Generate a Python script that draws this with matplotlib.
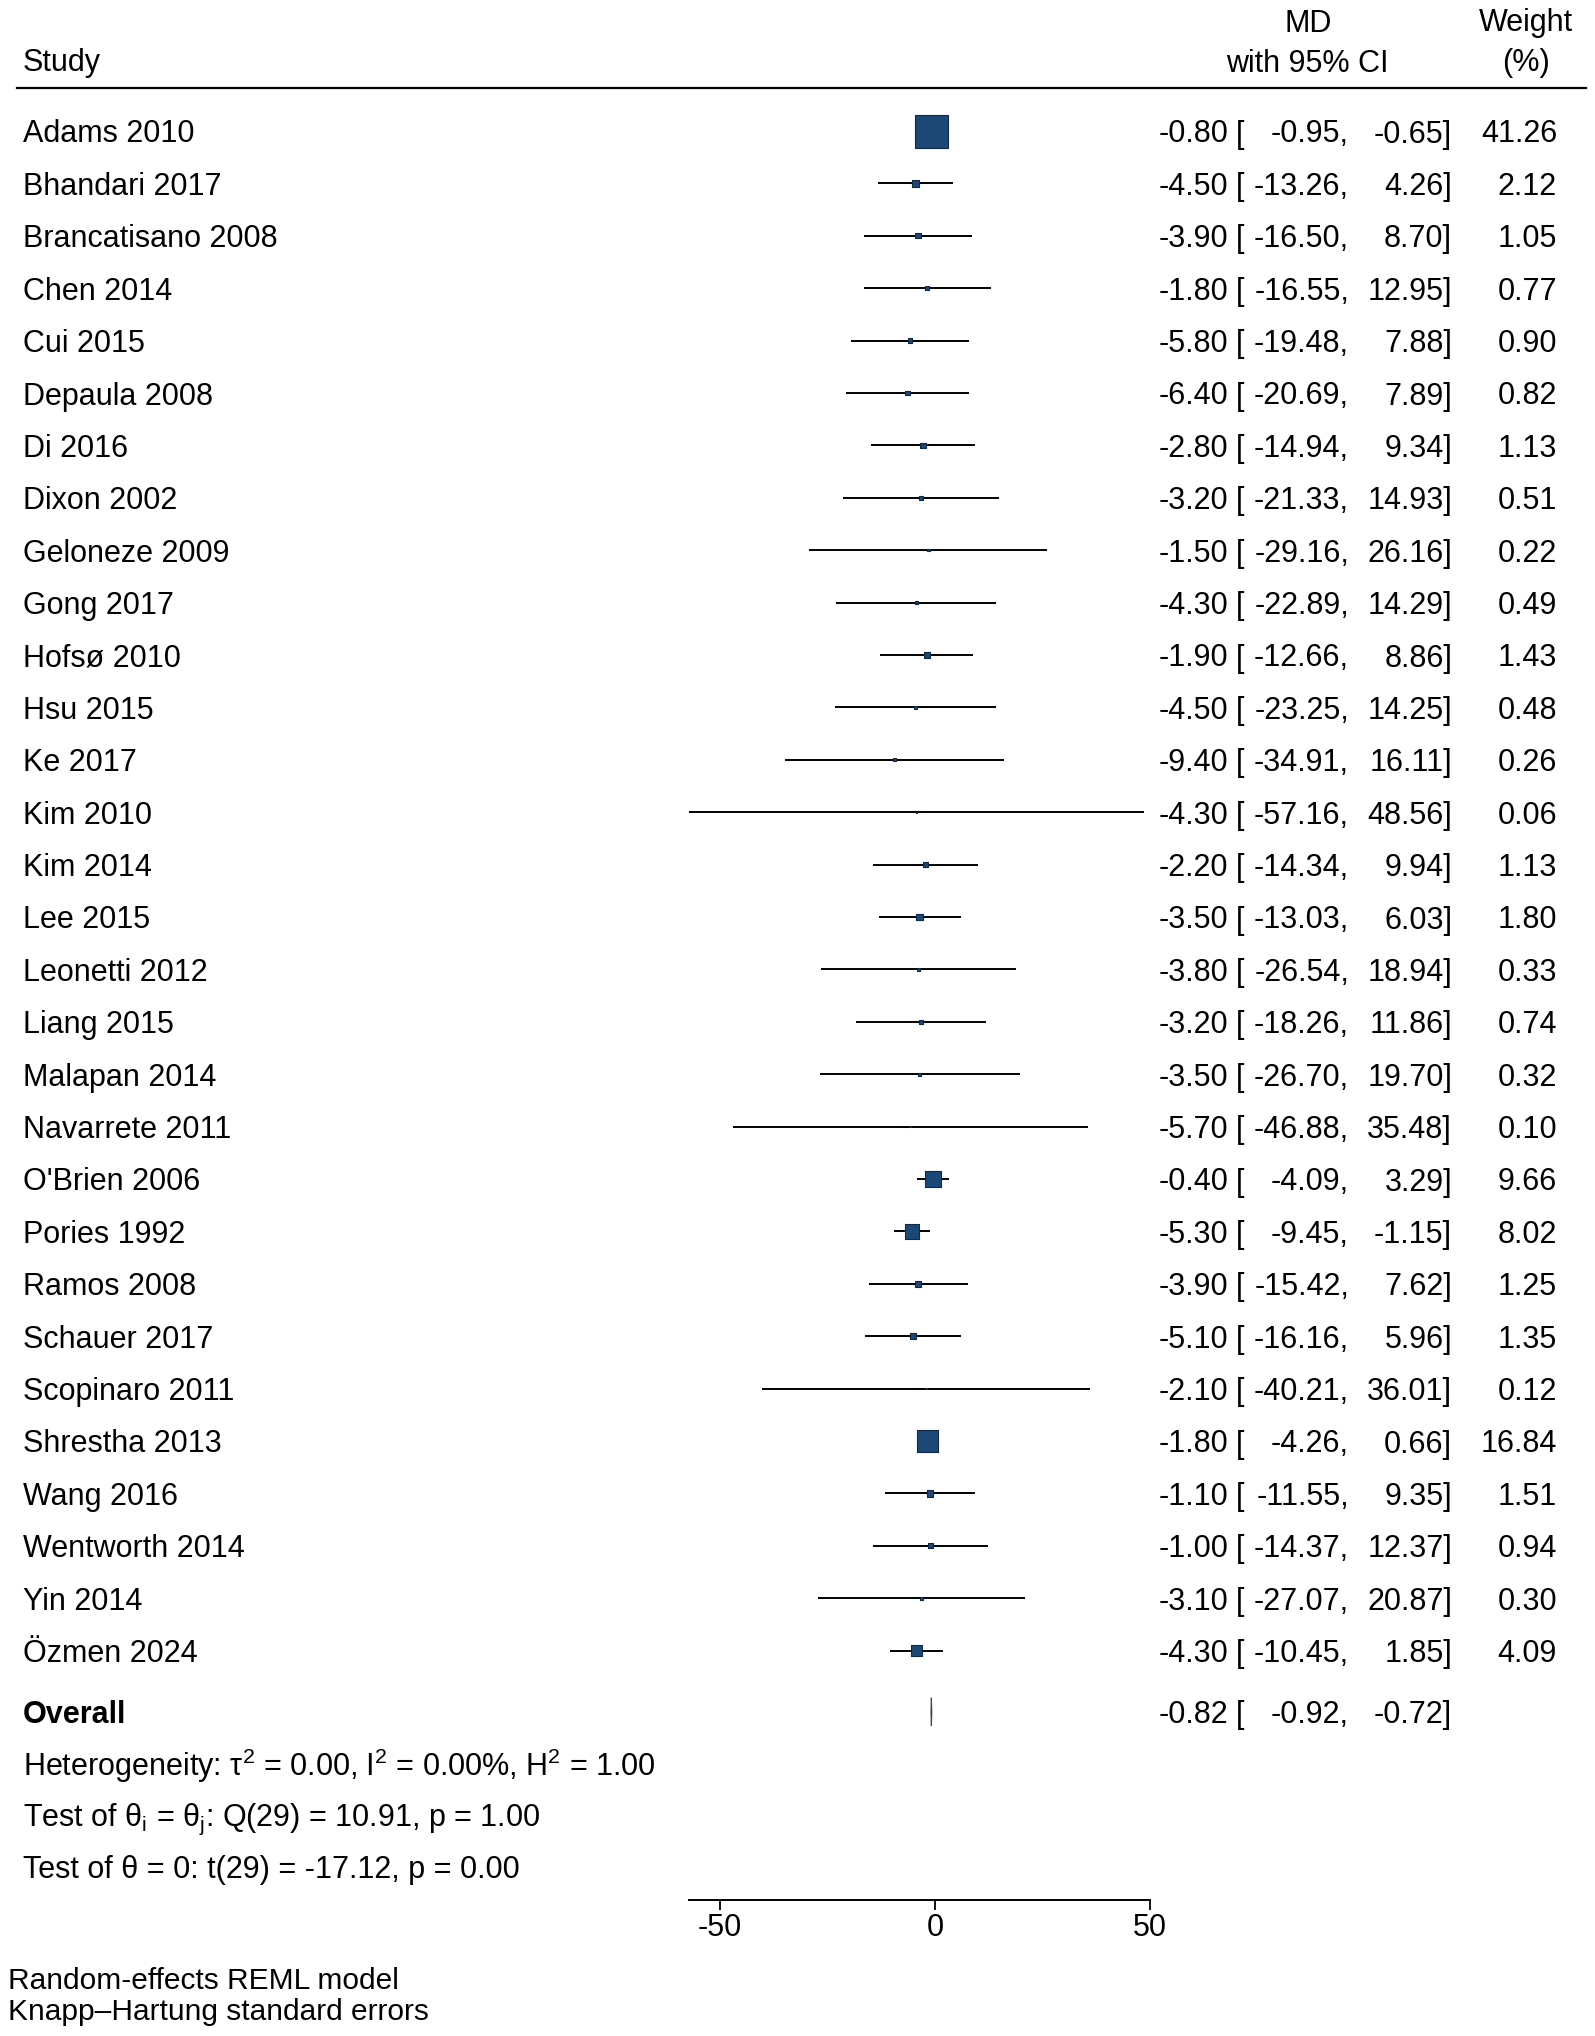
import matplotlib
matplotlib.use("Agg")
import matplotlib.pyplot as plt
from matplotlib import transforms
from matplotlib.lines import Line2D
from matplotlib.patches import Polygon

plt.rcParams['font.family'] = ['Liberation Sans', 'DejaVu Sans']
plt.rcParams['mathtext.fontset'] = 'custom'
plt.rcParams['mathtext.rm'] = 'Liberation Sans'
plt.rcParams['mathtext.it'] = 'Liberation Sans'
plt.rcParams['mathtext.default'] = 'rm'

studies = ["Adams 2010", "Bhandari 2017", "Brancatisano 2008", "Chen 2014", "Cui 2015",
           "Depaula 2008", "Di 2016", "Dixon 2002", "Geloneze 2009", "Gong 2017",
           "Hofsø 2010", "Hsu 2015", "Ke 2017", "Kim 2010", "Kim 2014", "Lee 2015",
           "Leonetti 2012", "Liang 2015", "Malapan 2014", "Navarrete 2011", "O'Brien 2006",
           "Pories 1992", "Ramos 2008", "Schauer 2017", "Scopinaro 2011", "Shrestha 2013",
           "Wang 2016", "Wentworth 2014", "Yin 2014", "Özmen 2024"]
md = [-0.80, -4.50, -3.90, -1.80, -5.80, -6.40, -2.80, -3.20, -1.50, -4.30,
      -1.90, -4.50, -9.40, -4.30, -2.20, -3.50, -3.80, -3.20, -3.50, -5.70,
      -0.40, -5.30, -3.90, -5.10, -2.10, -1.80, -1.10, -1.00, -3.10, -4.30]
ci_low = [-0.95, -13.26, -16.50, -16.55, -19.48, -20.69, -14.94, -21.33, -29.16, -22.89,
          -12.66, -23.25, -34.91, -57.16, -14.34, -13.03, -26.54, -18.26, -26.70, -46.88,
          -4.09, -9.45, -15.42, -16.16, -40.21, -4.26, -11.55, -14.37, -27.07, -10.45]
ci_high = [-0.65, 4.26, 8.70, 12.95, 7.88, 7.89, 9.34, 14.93, 26.16, 14.29,
           8.86, 14.25, 16.11, 48.56, 9.94, 6.03, 18.94, 11.86, 19.70, 35.48,
           3.29, -1.15, 7.62, 5.96, 36.01, 0.66, 9.35, 12.37, 20.87, 1.85]
weights = [41.26, 2.12, 1.05, 0.77, 0.90, 0.82, 1.13, 0.51, 0.22, 0.49,
           1.43, 0.48, 0.26, 0.06, 1.13, 1.80, 0.33, 0.74, 0.32, 0.10,
           9.66, 8.02, 1.25, 1.35, 0.12, 16.84, 1.51, 0.94, 0.30, 4.09]
overall = (-0.82, -0.92, -0.72)
xticks = [-50, 0, 50]
hetero_lines = [r"Heterogeneity: τ$^{2}$ = 0.00, I$^{2}$ = 0.00%, H$^{2}$ = 1.00",
                r"Test of θ$_{i}$ = θ$_{j}$: Q(29) = 10.91, p = 1.00",
                r"Test of θ = 0: t(29) = -17.12, p = 0.00"]
footnotes = ["Random-effects REML model", "Knapp–Hartung standard errors"]

W, H = 1595, 2036
fig = plt.figure(figsize=(W / 100, H / 100), dpi=100)
fx = lambda p: p / W
fy = lambda p: 1 - p / H

ROW0, ROWH = 131, 52.4
axis_y = 1900
xmin, xmax = min(ci_low), 50
x_left, x_right = 689, 1150
ax = fig.add_axes([fx(x_left), 1 - axis_y / H, fx(x_right) - fx(x_left), axis_y / H])
ax.set_xlim(xmin, xmax)
ax.set_ylim((axis_y - ROW0) / ROWH, -ROW0 / ROWH)
for s in ['top', 'right', 'left']:
    ax.spines[s].set_visible(False)
ax.spines['bottom'].set_linewidth(1.4)
ax.spines['bottom'].set_bounds(xmin, xmax)
ax.set_yticks([])
ax.set_xticks(xticks)
ax.set_xticklabels([str(t) for t in xticks])
ax.tick_params(axis='x', length=7.5, width=1.3, labelsize=22, pad=2)
ax.patch.set_visible(False)

n = len(studies)
rows = list(range(n))
ax.hlines(rows, ci_low, ci_high, color='black', lw=1.4, clip_on=False, zorder=2)
side_max = 33.0  # px side for largest weight
wmax = max(weights)
sizes = [((side_max * (w / wmax) ** 0.5) * 0.72) ** 2 for w in weights]
ax.scatter(md, rows, s=sizes, marker='s', facecolor='#1c4876', edgecolor='#0e2a47',
           linewidths=0.8, zorder=3, clip_on=False)

# overall diamond
r_ov = 30.17
est, lo, hi = overall
dh = 0.27
ax.add_patch(Polygon([[lo, r_ov], [est, r_ov - dh], [hi, r_ov], [est, r_ov + dh]],
                     closed=True, facecolor='#555555', edgecolor='#444444', lw=0.8, zorder=3,
                     clip_on=False))

tr = transforms.blended_transform_factory(fig.transFigure, ax.transData)
FS = 22
VA = 'center_baseline'

# header
fig.text(fx(23), fy(60), "Study", fontsize=FS, va=VA, ha='left')
fig.text(fx(1308), fy(20), "MD", fontsize=FS, va=VA, ha='center')
fig.text(fx(1307), fy(60), "with 95% CI", fontsize=FS, va=VA, ha='center')
fig.text(fx(1526), fy(20), "Weight", fontsize=FS, va=VA, ha='center')
fig.text(fx(1526), fy(60), "(%)", fontsize=FS, va=VA, ha='center')
fig.add_artist(Line2D([fx(17), fx(1586)], [fy(88), fy(88)], color='black', lw=1.6))

X_EST_R, X_BR, X_LO_R, X_HI_R, X_W_R = 1228, 1236, 1349, 1452, 1557


def ci_row(r, e, l, h):
    ax.text(fx(X_EST_R), r, f"{e:.2f}", transform=tr, fontsize=FS, ha='right', va=VA)
    ax.text(fx(X_BR), r, "[", transform=tr, fontsize=FS, ha='left', va=VA)
    ax.text(fx(X_LO_R), r, f"{l:.2f},", transform=tr, fontsize=FS, ha='right', va=VA)
    ax.text(fx(X_HI_R), r, f"{h:.2f}]", transform=tr, fontsize=FS, ha='right', va=VA)


for i in range(n):
    ax.text(fx(23), i, studies[i], transform=tr, fontsize=FS, ha='left', va=VA)
    ci_row(i, md[i], ci_low[i], ci_high[i])
    ax.text(fx(X_W_R), i, f"{weights[i]:.2f}", transform=tr, fontsize=FS, ha='right', va=VA)

ax.text(fx(23), r_ov, "Overall", transform=tr, fontsize=FS, ha='left', va=VA,
        fontweight='bold')
ci_row(r_ov, est, lo, hi)

for k, line in enumerate(hetero_lines):
    ax.text(fx(23), r_ov + 0.95 + k * 1.0, line, transform=tr, fontsize=FS, ha='left',
            va=VA)

fig.text(fx(8), fy(1978), footnotes[0], fontsize=21.5, ha='left', va=VA)
fig.text(fx(8), fy(2009), footnotes[1], fontsize=21.5, ha='left', va=VA)

fig.savefig("out.png", dpi=100)
